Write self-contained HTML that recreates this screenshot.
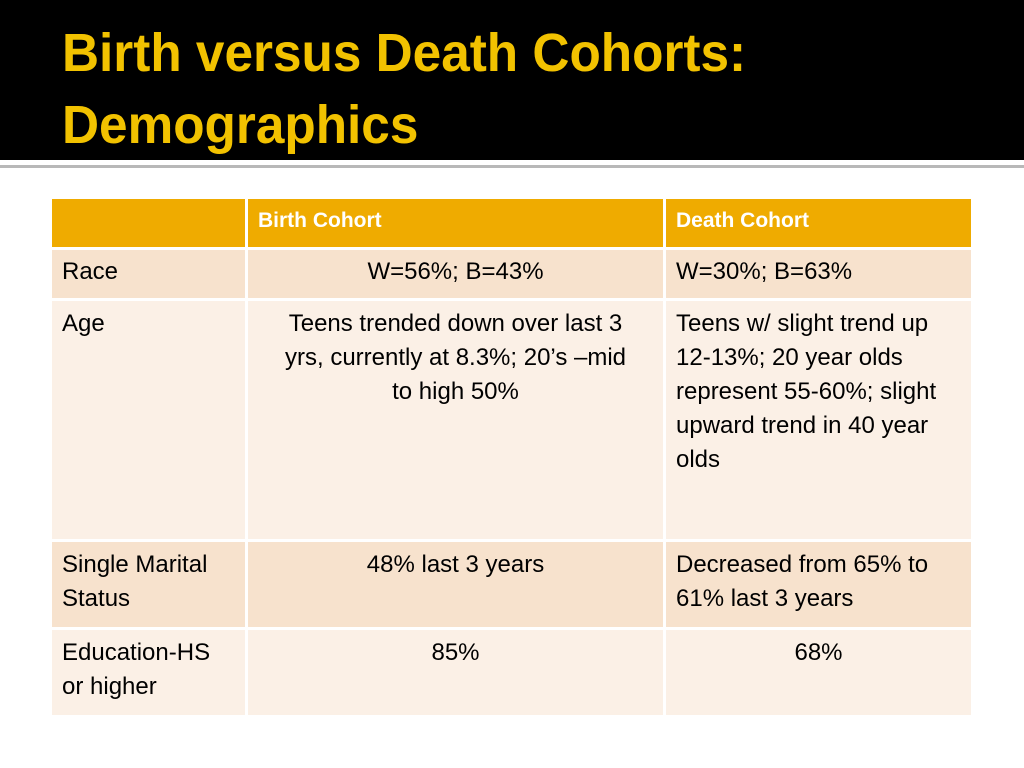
<!DOCTYPE html>
<html><head><meta charset="utf-8"><style>
body{margin:0;width:1024px;height:768px;background:#fff;position:relative;overflow:hidden;font-family:"Liberation Sans",sans-serif}
#hdr{position:absolute;left:0;top:0;width:1024px;height:160px;background:#000}
.t{position:absolute;left:62px;color:#F2C200;font-weight:bold;font-size:54px;transform-origin:0 0;transform:scaleX(0.95);white-space:nowrap}
#rule{position:absolute;left:0;top:165px;width:1024px;height:3px;background:#b8b8b8}
table{position:absolute;left:49px;top:196px;border-collapse:collapse;font-size:24px;color:#000}
td{border:3px solid #fff;vertical-align:top;padding:6px 10px;line-height:34px;box-sizing:border-box;white-space:nowrap}
tr.h td{background:#EFAB00;color:#fff;font-weight:bold;font-size:21px;padding:5px 10px}
tr.o td{background:#F7E2CD}
tr.e td{background:#FBF0E6}
.c{text-align:center}
</style></head><body>
<div id="hdr"></div>
<div class="t" style="top:22px">Birth versus Death Cohorts:</div>
<div class="t" style="top:94px">Demographics</div>
<div id="rule"></div>
<table>
<tr class="h" style="height:51px"><td style="width:196px"></td><td style="width:418px">Birth Cohort</td><td style="width:308px">Death Cohort</td></tr>
<tr class="o" style="height:51px"><td style="padding-top:5px">Race</td><td class="c" style="padding-top:5px">W=56%; B=43%</td><td style="padding-top:5px">W=30%; B=63%</td></tr>
<tr class="e" style="height:241px"><td>Age</td><td class="c">Teens trended down over last 3<br>yrs, currently at 8.3%; 20’s –mid<br>to high 50%</td><td>Teens w/ slight trend up<br>12-13%; 20 year olds<br>represent 55-60%; slight<br>upward trend in 40 year<br>olds</td></tr>
<tr class="o" style="height:88px"><td>Single Marital<br>Status</td><td class="c">48% last 3 years</td><td>Decreased from 65% to<br>61% last 3 years</td></tr>
<tr class="e" style="height:88px"><td>Education-HS<br>or higher</td><td class="c">85%</td><td class="c">68%</td></tr>
</table>
</body></html>
